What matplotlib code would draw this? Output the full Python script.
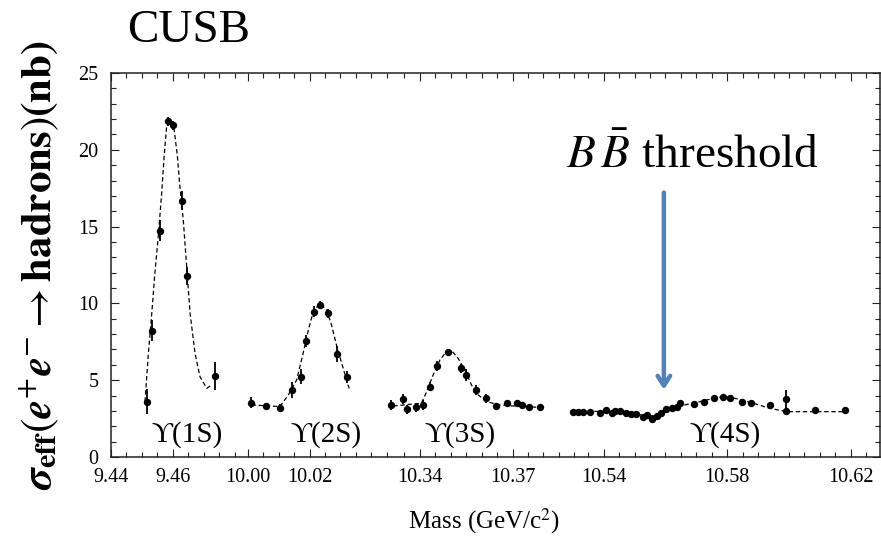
import numpy as np
import matplotlib
matplotlib.use("Agg")
import matplotlib.pyplot as plt

# CUSB Upsilon scans (mass in GeV, cross section in nb)
m1s = [9.4515, 9.4533, 9.4559, 9.4584, 9.4600, 9.4631, 9.4647, 9.4737]
s1s = [3.6, 8.22, 14.73, 21.85, 21.6, 16.69, 11.78, 5.27]
e1s = [0.8, 0.7, 0.7, 0.3, 0.3, 0.6, 0.6, 0.9]
fit1s_m = [9.4510, 9.4521, 9.4532, 9.4542, 9.4553, 9.4564, 9.4572, 9.4580, 9.4591,
           9.4604, 9.4615, 9.4623, 9.4634, 9.4645, 9.4656, 9.4672, 9.4688, 9.4710, 9.4726]
fit1s_s = [3.6, 6.75, 9.35, 11.96, 14.34, 17.17, 19.55, 21.5, 21.94,
           21.4, 19.55, 17.6, 15.43, 12.39, 9.35, 6.75, 5.23, 4.47, 4.69]

m2s = [10.0010, 10.0059, 10.0104, 10.0142, 10.0172, 10.0187, 10.0214, 10.0233,
       10.0258, 10.0289, 10.0322]
s2s = [3.54, 3.32, 3.17, 4.36, 5.23, 7.55, 9.46, 9.9, 9.35, 6.7, 5.19]
e2s = [0.35, 0.2, 0.25, 0.5, 0.5, 0.4, 0.35, 0.25, 0.3, 0.5, 0.4]
fit2s_m = [10.0012, 10.0104, 10.0131, 10.0158, 10.0179, 10.0196, 10.0212, 10.0233,
           10.0255, 10.0271, 10.0287, 10.0304, 10.0320, 10.0328]
fit2s_s = [3.39, 3.28, 4.04, 5.01, 6.75, 8.27, 9.46, 10.0, 9.57, 8.59, 7.29, 6.1, 5.01, 4.47]

m3s = [10.3308, 10.3344, 10.3359, 10.3389, 10.3409, 10.3432, 10.3457, 10.3492, 10.3532,
       10.3549, 10.3581, 10.3614, 10.3648, 10.3681, 10.3713, 10.3732, 10.3754, 10.3788]
s3s = [3.39, 3.78, 3.1, 3.23, 3.39, 4.58, 5.92, 6.86, 5.77,
       5.34, 4.36, 3.82, 3.34, 3.5, 3.5, 3.39, 3.23, 3.23]
e3s = [0.3, 0.35, 0.3, 0.3, 0.35, 0.3, 0.3, 0.2, 0.3,
       0.4, 0.3, 0.3, 0.2, 0.2, 0.2, 0.2, 0.15, 0.2]
fit3s_m = [10.3314, 10.3405, 10.3422, 10.3443, 10.3465, 10.3486, 10.3503, 10.3524,
           10.3546, 10.3567, 10.3589, 10.3616, 10.3659, 10.3702, 10.3788]
fit3s_s = [3.32, 3.5, 4.25, 5.34, 6.32, 6.86, 6.92, 6.42, 5.66, 4.69, 4.04, 3.6, 3.39, 3.32, 3.23]

m4s = [10.5301, 10.5317, 10.5334, 10.5355, 10.5388, 10.5409, 10.5426, 10.5436, 10.5452,
       10.5474, 10.5490, 10.5506, 10.5526, 10.5541, 10.5558, 10.5573, 10.5587, 10.5603,
       10.5620, 10.5636, 10.5648, 10.5692, 10.5724, 10.5757, 10.5787, 10.5810, 10.5849,
       10.5878, 10.5938, 10.5990, 10.5992, 10.6083, 10.6180]
s4s = [2.95, 2.95, 2.95, 2.95, 2.89, 3.06, 2.89, 3.0, 2.98,
       2.84, 2.8, 2.8, 2.58, 2.73, 2.45, 2.67, 2.89, 3.1,
       3.17, 3.28, 3.54, 3.45, 3.6, 3.82, 3.93, 3.82, 3.6,
       3.5, 3.39, 3.75, 3.0, 3.06, 3.06]
e4s = [0.1, 0.1, 0.1, 0.1, 0.1, 0.15, 0.1, 0.1, 0.1,
       0.1, 0.1, 0.1, 0.15, 0.1, 0.15, 0.1, 0.15, 0.15,
       0.15, 0.15, 0.2, 0.2, 0.15, 0.15, 0.15, 0.15, 0.15,
       0.15, 0.15, 0.6, 0.25, 0.15, 0.15]
fit4s_m = [10.5301, 10.5420, 10.5528, 10.5571, 10.5603, 10.5646, 10.5711, 10.5765,
           10.5797, 10.5841, 10.5884, 10.5938, 10.5992, 10.6186]
fit4s_s = [3.0, 2.95, 2.73, 2.67, 3.06, 3.32, 3.6, 3.86, 3.93, 3.75, 3.5, 3.17, 2.95, 2.95]

tick_masses = [9.44, 9.46, 10.00, 10.02, 10.34, 10.37, 10.54, 10.58, 10.62]
tick_labels = ["9.44", "9.46", "10.00", "10.02", "10.34", "10.37", "10.54", "10.58", "10.62"]

peak_names = ['ϒ(1S)', 'ϒ(2S)', 'ϒ(3S)', 'ϒ(4S)']
peak_label_m = [9.4646, 10.0253, 10.3529, 10.5792]

threshold_mass = 10.5595

# broken mass axis: each scan gets its own offset on one common axis
def to_axis(m):
    m = np.asarray(m, dtype=float)
    off = np.where(m < 9.7, 9.44, np.where(m < 10.2, 9.9557, np.where(m < 10.45, 10.24, 10.3805)))
    return m - off

plt.rcParams['font.family'] = ['Liberation Serif', 'DejaVu Serif']
plt.rcParams['mathtext.fontset'] = 'stix'

fig = plt.figure(figsize=(8.81, 5.38), dpi=100)
ax = fig.add_axes([0.126, 0.1506, 0.8726, 0.7137])

scans = [(m1s, s1s, e1s, fit1s_m, fit1s_s),
         (m2s, s2s, e2s, fit2s_m, fit2s_s),
         (m3s, s3s, e3s, fit3s_m, fit3s_s),
         (m4s, s4s, e4s, fit4s_m, fit4s_s)]
for m, s, e, fm, fs in scans:
    ax.plot(to_axis(fm), fs, color='black', lw=0.9, dashes=(3.5, 2.2))
    ax.errorbar(to_axis(m), s, yerr=e, fmt='o', color='black', ms=4.3, elinewidth=1.3, capsize=0)

ax.set_xlim(0, 0.2489)
ax.set_ylim(0, 25)

minor_m = np.concatenate([np.arange(9.445, 9.4801, 0.005), np.arange(10.0, 10.0451, 0.005),
                          np.arange(10.335, 10.3901, 0.005), np.arange(10.535, 10.6251, 0.005)])
minor_u = [u for u in to_axis(minor_m) if np.min(np.abs(to_axis(tick_masses) - u)) > 1e-4]
ax.set_xticks(to_axis(tick_masses))
ax.set_xticklabels(tick_labels)
ax.set_xticks(minor_u, minor=True)
ax.set_yticks(np.arange(0, 26, 5))
ax.set_yticks(np.arange(0, 26, 1), minor=True)
ax.tick_params(which='both', direction='in', top=True, right=True, width=0.8, color='#222222',
               labelsize=14.5)
ax.tick_params(which='major', length=6)
ax.tick_params(which='minor', length=3.5)
ax.tick_params(axis='y', pad=9)
ax.tick_params(axis='x', pad=8)
for sp in ax.spines.values():
    sp.set_linewidth(1.1)
    sp.set_color('#222222')

ax.set_xlabel(r'Mass (GeV/c$^2$)', fontsize=18)
ax.xaxis.set_label_coords(0.485, -0.128)

for mc, lab in zip(peak_label_m, peak_names):
    ax.text(to_axis(mc), 1.45, lab, ha='center', va='center', fontsize=21)

ax.annotate('', xy=(to_axis(threshold_mass), 4.2), xytext=(to_axis(threshold_mass), 17.4),
            arrowprops=dict(arrowstyle='->,head_length=0.7,head_width=0.45', color='#4F81BD', lw=3.2))

fig.text(0.786, 0.688, r'$B\,\bar{B}$ threshold', ha='center', va='baseline', fontsize=34)
fig.text(0.2145, 0.922, 'CUSB', ha='center', va='baseline', fontsize=34)
fig.text(0.044, 0.508,
         r'$\mathbfit{\sigma}_{\mathbf{eff}}(\mathbfit{e}^{+}\mathbfit{e}^{-}\rightarrow\mathbf{hadrons})\mathbf{(nb)}$',
         rotation=90, ha='center', va='center', fontsize=31)

fig.savefig('out.png', dpi=100)
